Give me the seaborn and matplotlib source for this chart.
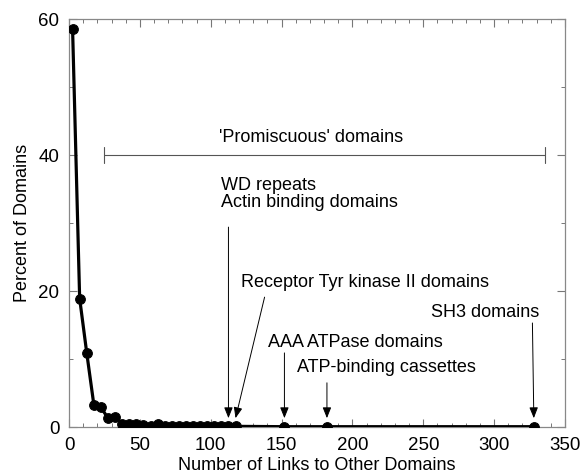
import matplotlib
matplotlib.use("Agg")
import matplotlib.pyplot as plt
import numpy as np
import pandas as pd
import seaborn as sns

# number of links (bin centres) and percent of domains
links = [2.5, 7.5, 12.5, 17.5, 22.5, 27.5, 32.5, 37.5, 42.5, 47.5, 52.5, 57.5,
         62.5, 67.5, 72.5, 77.5, 82.5, 87.5, 92.5, 97.5, 102.5, 107.5, 112.5, 117.5,
         152, 182, 328]
percent = [58.6, 18.9, 10.9, 3.3, 2.9, 1.3, 1.5, 0.5, 0.45, 0.4, 0.3, 0.2,
           0.45, 0.2, 0.15, 0.15, 0.15, 0.15, 0.15, 0.15, 0.1, 0.1, 0.1, 0.1,
           0.05, 0.05, 0.05]

# annotations: label, text pos (x, y), arrow start (x, y), arrow target x
labels = ["WD repeats\nActin binding domains", "Receptor Tyr kinase II domains",
          "AAA ATPase domains", "ATP-binding cassettes", "SH3 domains"]
label_xy = [(107, 34.2), (121.5, 21.2), (140.5, 12.5), (161, 8.7), (332, 16.8)]
label_ha = ["left", "left", "left", "left", "right"]
arrow_from = [(112.5, 29.4), (138, 19.1), (152, 10.9), (182, 6.5), (327, 15.3)]
arrow_to = [112.5, 117.5, 152, 182, 328]

df = pd.DataFrame({"links": links, "percent": percent})

sns.set_style("ticks")
plt.rcParams["font.family"] = ["Liberation Sans", "DejaVu Sans"]
plt.rcParams["font.size"] = 13
plt.rcParams["text.color"] = "black"
plt.rcParams["axes.labelcolor"] = "black"
plt.rcParams["xtick.labelcolor"] = "black"
plt.rcParams["ytick.labelcolor"] = "black"

fig = plt.figure(figsize=(5.82, 4.76), dpi=100)
ax = fig.add_axes([0.1186, 0.1029, 0.8522, 0.8571])

sns.lineplot(data=df, x="links", y="percent", ax=ax, color="black", lw=2.3,
             marker="o", markersize=7, markeredgecolor="black", zorder=3)

ax.set_xlim(0, 350)
ax.set_ylim(0, 60)
ax.set_xticks(np.arange(0, 351, 50))
ax.set_xticks(np.arange(0, 351, 10), minor=True)
ax.set_yticks(np.arange(0, 61, 20))
ax.set_yticks(np.arange(0, 61, 10), minor=True)
ax.tick_params(which="both", direction="in", top=True, right=True,
               color="#777777", labelsize=13.5, pad=7)
ax.tick_params(which="major", length=6, width=0.8)
ax.tick_params(which="minor", length=3, width=0.7)
for s in ax.spines.values():
    s.set_color("#888888")
    s.set_linewidth(0.9)

ax.set_xlabel("Number of Links to Other Domains", fontsize=13, labelpad=2)
ax.set_ylabel("Percent of Domains", fontsize=13, labelpad=5)

# 'promiscuous' bracket
ax.plot([25, 336], [40, 40], color="#555555", lw=0.8)
ax.plot([25, 25], [38.8, 41.2], color="#555555", lw=0.8)
ax.plot([336, 336], [38.8, 41.2], color="#555555", lw=0.8)
ax.text(171, 41.3, "'Promiscuous' domains", ha="center", va="bottom", fontsize=13)

for lab, (tx, ty), ha, (ax0, ay0), x1 in zip(labels, label_xy, label_ha, arrow_from, arrow_to):
    ax.text(tx, ty, lab, ha=ha, va="center", fontsize=13, linespacing=1.0)
    ax.annotate("", xy=(x1, 1.3), xytext=(ax0, ay0),
                arrowprops=dict(arrowstyle="-|>,head_length=0.5,head_width=0.2",
                                color="black", lw=0.7, shrinkA=0, shrinkB=0))

fig.savefig("out.png", dpi=100)
